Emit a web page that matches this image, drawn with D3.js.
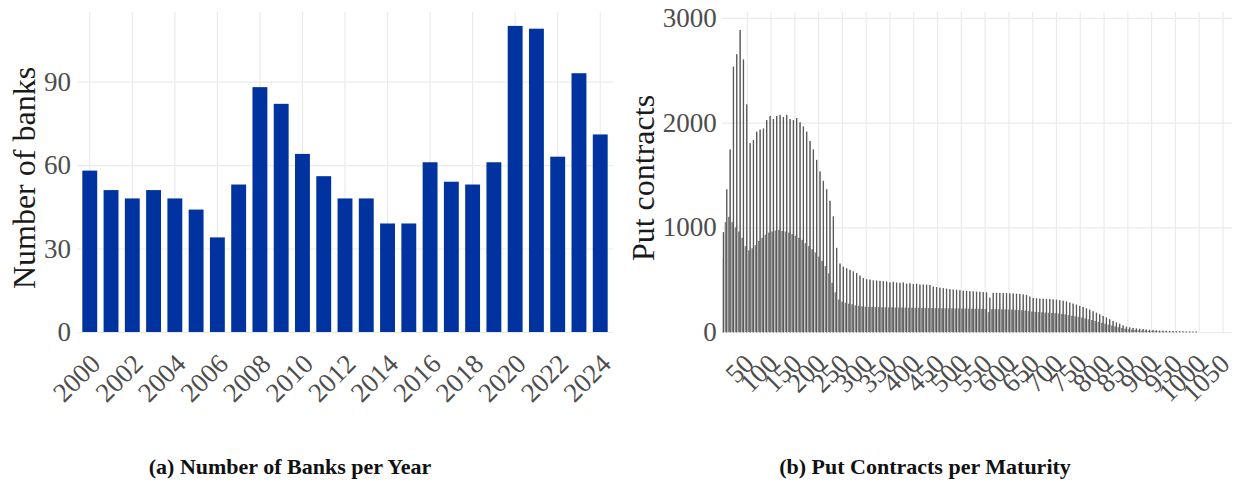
<!DOCTYPE html>
<html>
<head>
<meta charset="utf-8">
<script src="https://cdn.jsdelivr.net/npm/d3@7"></script>
<style>
  body { margin: 0; background: #fff; }
  svg text { font-family: "Liberation Serif", "Times New Roman", serif; }
</style>
</head>
<body>
<svg id="fig" width="1236" height="489"></svg>
<script>
// ---- Panel (a): number of banks per year ----
const years = [2000, 2001, 2002, 2003, 2004, 2005, 2006, 2007, 2008, 2009, 2010, 2011, 2012,
               2013, 2014, 2015, 2016, 2017, 2018, 2019, 2020, 2021, 2022, 2023, 2024];
const bankCounts = [58, 51, 48, 51, 48, 44, 34, 53, 88, 82, 64, 56, 48,
                    48, 39, 39, 61, 54, 53, 61, 110, 109, 63, 93, 71];
const yearTicks = [2000, 2002, 2004, 2006, 2008, 2010, 2012, 2014, 2016, 2018, 2020, 2022, 2024];
const bankTicks = [0, 30, 60, 90];

// ---- Panel (b): put contracts per maturity (days) ----
// Each week: the Friday expiry and the Mon–Thu expiries of the days before it.
const fridayDays = [
  1, 8, 15, 22, 29, 36, 43, 50, 57, 64,
  71, 78, 85, 92, 99, 106, 113, 120, 127, 134,
  141, 148, 155, 162, 169, 176, 183, 190, 197, 204,
  211, 218, 225, 232, 239, 246, 253, 260, 267, 274,
  281, 288, 295, 302, 309, 316, 323, 330, 337, 344,
  351, 358, 365, 372, 379, 386, 393, 400, 407, 414,
  421, 428, 435, 442, 449, 456, 463, 470, 477, 484,
  491, 498, 505, 512, 519, 526, 533, 540, 547, 554,
  561, 568, 575, 582, 589, 596, 603, 610, 617, 624,
  631, 638, 645, 652, 659, 666, 673, 680, 687, 694,
  701, 708, 715, 722, 729, 736, 743, 750, 757, 764,
  771, 778, 785, 792, 799, 806, 813, 820, 827, 834,
  841, 848, 855, 862, 869, 876, 883, 890, 897, 904,
  911, 918, 925, 932, 939, 946, 953, 960, 967, 974,
  981, 988, 995];
const fridayCounts = [
  950, 1360, 1740, 2530, 2650, 2880, 2600, 2170, 1800, 1830,
  1910, 1930, 1940, 2020, 2060, 2030, 2060, 2070, 2050, 2070,
  2030, 2020, 2040, 2000, 1960, 1910, 1820, 1740, 1640, 1530,
  1440, 1360, 1250, 1100, 800, 650, 620, 605, 590, 575,
  560, 535, 512, 500, 497, 490, 488, 485, 481, 478,
  470, 476, 468, 466, 470, 458, 462, 455, 458, 450,
  450, 448, 445, 430, 425, 420, 415, 410, 405, 402,
  400, 395, 390, 388, 386, 384, 382, 380, 378, 375,
  325, 370, 370, 368, 368, 367, 366, 365, 362, 360,
  355, 350, 335, 320, 318, 315, 313, 312, 310, 308,
  305, 300, 295, 288, 278, 268, 258, 245, 235, 222,
  210, 195, 180, 165, 150, 135, 118, 102, 88, 75,
  60, 48, 40, 34, 30, 27, 24, 20, 17, 14,
  12, 10, 8, 7, 6, 5, 4, 3, 3, 2,
  2, 1, 1];
const midweekCounts = [
  700, 1050, 1100, 1050, 1000, 960, 900, 820, 780, 800,
  830, 870, 900, 930, 950, 960, 970, 975, 965, 960,
  950, 935, 920, 900, 880, 850, 820, 790, 760, 720,
  680, 630, 560, 470, 380, 310, 290, 280, 270, 265,
  255, 250, 245, 242, 240, 240, 238, 238, 236, 236,
  235, 235, 234, 234, 233, 233, 232, 232, 231, 231,
  230, 230, 229, 229, 228, 228, 227, 227, 226, 226,
  225, 225, 224, 224, 223, 223, 222, 222, 221, 220,
  190, 218, 218, 217, 217, 216, 215, 214, 212, 210,
  208, 205, 200, 196, 192, 190, 188, 186, 184, 182,
  180, 176, 172, 168, 162, 156, 150, 144, 138, 130,
  122, 114, 106, 97, 88, 79, 70, 62, 54, 46,
  38, 31, 26, 22, 19, 16, 14, 12, 10, 8,
  7, 6, 5, 4, 3, 3, 2, 2, 2, 1,
  1, 1, 1];
const maturityTicks = [50, 100, 150, 200, 250, 300, 350, 400, 450, 500, 550,
                       600, 650, 700, 750, 800, 850, 900, 950, 1000, 1050];
const contractTicks = [0, 1000, 2000, 3000];

const svg = d3.select("#fig");
const GRID = "#ebebeb", TICK_TXT = "#4d4d4d", TITLE = "#1a1a1a";
const SERIF = "'Liberation Serif', 'Times New Roman', serif";

function styleAxis(g) {
  g.attr("font-family", null);
  g.select(".domain").remove();
  g.selectAll(".tick line").attr("stroke", GRID).attr("stroke-width", 1.2);
  g.selectAll(".tick text").attr("fill", TICK_TXT).attr("font-size", 27)
    .style("font-family", SERIF);
}
function rotateLabels(g, dx) {
  g.selectAll(".tick text")
    .attr("x", 0).attr("y", 0).attr("dy", "0.7em")
    .attr("text-anchor", "end")
    .attr("transform", `translate(${dx},20) rotate(-45)`);
}

// ---------- panel (a) ----------
{
  const left = 77, right = 613, top = 12, bottom = 332;
  const x = d3.scaleBand().domain(years).range([left, right])
    .paddingInner(0.3).paddingOuter(0.25);
  const y = d3.scaleLinear().domain([0, 115]).range([bottom, top]);

  svg.append("g").attr("transform", `translate(${left},0)`)
    .call(d3.axisLeft(y).tickValues(bankTicks).tickSize(-(right - left)).tickPadding(6))
    .call(styleAxis);
  svg.append("g").attr("transform", `translate(0,${bottom})`)
    .call(d3.axisBottom(x).tickValues(yearTicks).tickSize(-(bottom - top)))
    .call(styleAxis).call(rotateLabels, -1);

  svg.append("g").selectAll("rect").data(years).join("rect")
    .attr("x", d => x(d)).attr("width", x.bandwidth())
    .attr("y", (d, i) => y(bankCounts[i]))
    .attr("height", (d, i) => y(0) - y(bankCounts[i]))
    .attr("fill", "#0033a0");

  svg.append("text")
    .attr("transform", `translate(35,178) rotate(-90)`)
    .attr("text-anchor", "middle").attr("font-size", 32).attr("fill", TITLE)
    .text("Number of banks");
}

// ---------- panel (b) ----------
{
  const left = 721.7, right = 1232, top = 12, bottom = 332;
  const x = d3.scaleLinear().domain([-2.7, 1070]).range([left, right]);
  const y = d3.scaleLinear().domain([0, 3057]).range([bottom, top]);
  const half = 0.45; // bars are 0.9 day wide

  svg.append("g").attr("transform", `translate(${left},0)`)
    .call(d3.axisLeft(y).tickValues(contractTicks).tickSize(-(right - left)).tickPadding(5)
      .tickFormat(d3.format("d")))
    .call(styleAxis);
  svg.append("g").attr("transform", `translate(0,${bottom})`)
    .call(d3.axisBottom(x).tickValues(maturityTicks).tickSize(-(bottom - top)).tickFormat(d3.format("d")))
    .call(styleAxis).call(rotateLabels, -5);

  const bars = svg.append("g");
  // Mon–Thu expiries of each week
  bars.selectAll("rect.mid").data(fridayDays).join("rect").attr("class", "mid")
    .attr("x", d => x(Math.max(d - 4, 0) - half))
    .attr("width", d => x(d - 1 + half) - x(Math.max(d - 4, 0) - half))
    .attr("y", (d, i) => y(midweekCounts[i]))
    .attr("height", (d, i) => y(0) - y(midweekCounts[i]))
    .attr("fill", "#858585");
  // Friday expiries, outlined like the other bars
  bars.selectAll("rect.fri").data(fridayDays).join("rect").attr("class", "fri")
    .attr("x", d => x(d - half))
    .attr("width", x(2 * half) - x(0))
    .attr("y", (d, i) => y(fridayCounts[i]))
    .attr("height", (d, i) => y(0) - y(fridayCounts[i]))
    .attr("fill", "#595959").attr("stroke", "#595959").attr("stroke-width", 0.9);

  svg.append("text")
    .attr("transform", `translate(654,178) rotate(-90)`)
    .attr("text-anchor", "middle").attr("font-size", 32).attr("fill", TITLE)
    .text("Put contracts");
}

// ---------- captions ----------
svg.append("text").attr("x", 290).attr("y", 474).attr("text-anchor", "middle")
  .attr("font-size", 22).attr("font-weight", "bold").attr("fill", "#111")
  .text("(a) Number of Banks per Year");
svg.append("text").attr("x", 925).attr("y", 474).attr("text-anchor", "middle")
  .attr("font-size", 22).attr("font-weight", "bold").attr("fill", "#111")
  .text("(b) Put Contracts per Maturity");
</script>
</body>
</html>
